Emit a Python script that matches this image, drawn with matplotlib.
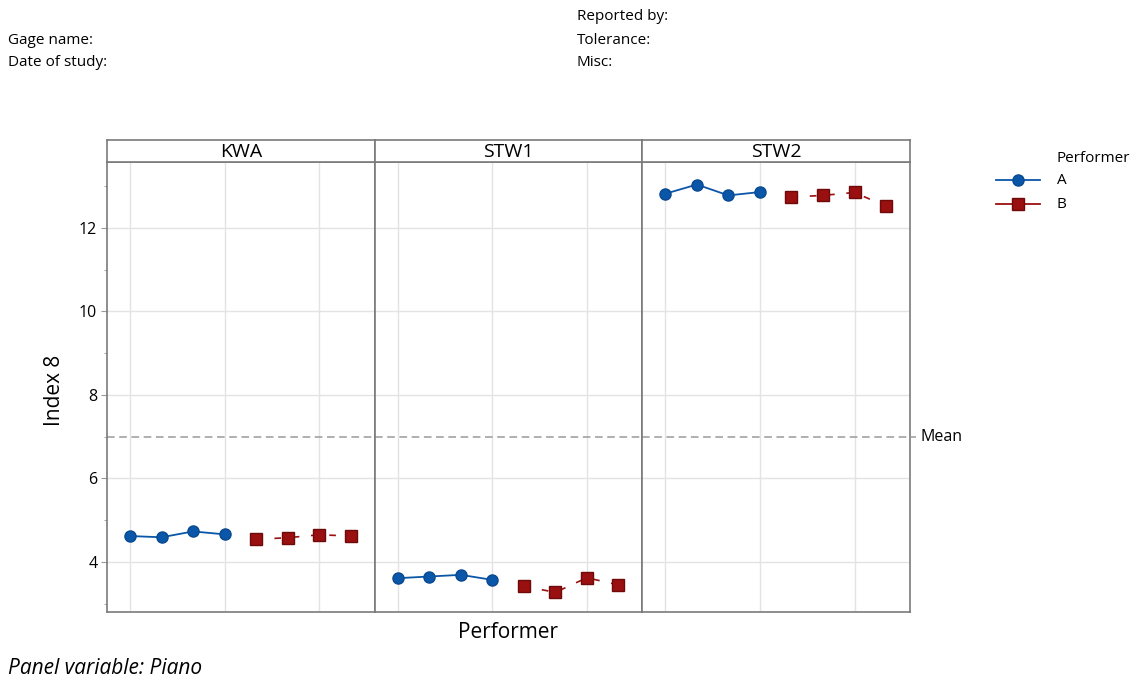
import matplotlib
matplotlib.use("Agg")
import matplotlib.pyplot as plt
from matplotlib.ticker import MultipleLocator
from matplotlib.lines import Line2D
import numpy as np

plt.rcParams['font.family'] = ['Open Sans', 'DejaVu Sans']

panels = ["KWA", "STW1", "STW2"]
performers = ["A", "B"]
trials_A = [1, 2, 3, 4]
trials_B = [5, 6, 7, 8]
vals_A = {
    "KWA": [4.62, 4.59, 4.73, 4.66],
    "STW1": [3.61, 3.65, 3.69, 3.57],
    "STW2": [12.82, 13.04, 12.78, 12.86],
}
vals_B = {
    "KWA": [4.54, 4.58, 4.65, 4.62],
    "STW1": [3.42, 3.27, 3.62, 3.45],
    "STW2": [12.74, 12.78, 12.85, 12.52],
}
yticks = [4, 6, 8, 10, 12]

blue = "#0A56A8"
red = "#9A1010"
grey_spine = "#7a7a7a"
grid_c = "#e3e3e3"

all_vals = np.concatenate([np.array(vals_A[p] + vals_B[p]) for p in panels])
mean_val = all_vals.mean()

W, H = 1130, 678
fig = plt.figure(figsize=(W / 100, H / 100), dpi=100)

left_px, right_px = 107, 910
top_px, bot_px = 162, 612
strip_top = 140
pw = (right_px - left_px) / 3

axes = []
for i, p in enumerate(panels):
    x0 = (left_px + i * pw) / W
    ax = fig.add_axes([x0, 1 - bot_px / H, pw / W, (bot_px - top_px) / H],
                      sharey=axes[0] if axes else None)
    axes.append(ax)
    ax.set_xlim(0.27, 8.76)
    ax.set_ylim(2.8, 13.58)
    for x in [1, 4, 7]:
        ax.axvline(x, color=grid_c, lw=1.0, zorder=0)
    for y in yticks:
        ax.axhline(y, color=grid_c, lw=1.0, zorder=0)
    ax.plot(trials_A, vals_A[p], color=blue, lw=1.3, marker='o', ms=8,
            mfc=blue, mec="#0a4a90", zorder=3)
    ax.plot(trials_B, vals_B[p], color=red, lw=1.2, ls=(0, (4, 7)),
            marker='s', ms=8, mfc=red, mec="#6e0a0a", zorder=3)
    ax.axhline(mean_val, color="#9a9a9a", lw=1.1, ls=(0, (5, 3)), zorder=1)
    ax.set_xticks([])
    for s in ax.spines.values():
        s.set_color(grey_spine)
        s.set_linewidth(1.2)
    if i == 0:
        ax.set_yticks(yticks)
        ax.yaxis.set_minor_locator(MultipleLocator(1))
        ax.tick_params(axis='y', which='major', length=4, color="#999999",
                       labelsize=11.5, pad=3)
        ax.tick_params(axis='y', which='minor', length=2, color="#999999")
    else:
        ax.tick_params(axis='y', which='both', left=False, labelleft=False)
    # strip
    sax = fig.add_axes([x0, 1 - top_px / H, pw / W, (top_px - strip_top) / H])
    sax.set_xticks([]); sax.set_yticks([])
    for s in sax.spines.values():
        s.set_color(grey_spine)
        s.set_linewidth(1.2)
    sax.text(0.5, 0.45, p, ha='center', va='center', fontsize=14,
             transform=sax.transAxes)

# mean line extends a bit beyond the right edge
mean_y_px = axes[2].transData.transform((0, mean_val))[1]
fig.add_artist(Line2D([right_px / W, 916 / W], [mean_y_px / H] * 2,
                      color="#9a9a9a", lw=1.1, ls=(0, (5, 3))))
fig.text(920 / W, mean_y_px / H, "Mean", ha='left', va='center', fontsize=11.5)

fig.text(55 / W, 1 - 390 / H, "Index 8", rotation=90, ha='center',
         va='center', fontsize=15)
fig.text(508 / W, 1 - 632 / H, "Performer", ha='center', va='center',
         fontsize=15)
fig.text(8 / W, 1 - 668 / H, "Panel variable: Piano", ha='left',
         va='center', fontsize=15, style='italic')

hdr = 11
fig.text(8 / W, 1 - 40 / H, "Gage name:", fontsize=hdr, va='center')
fig.text(8 / W, 1 - 63 / H, "Date of study:", fontsize=hdr, va='center')
fig.text(577 / W, 1 - 17 / H, "Reported by:", fontsize=hdr, va='center')
fig.text(577 / W, 1 - 40 / H, "Tolerance:", fontsize=hdr, va='center')
fig.text(577 / W, 1 - 63 / H, "Misc:", fontsize=hdr, va='center')

# legend (drawn manually to match layout)
fig.text(1057 / W, 1 - 158 / H, "Performer", fontsize=11, va='center')
leg_items = [("A", blue, 'o', "#0a4a90", 180), ("B", red, 's', "#6e0a0a", 204)]
for lab, c, mk, mec, ypx in leg_items:
    yy = 1 - ypx / H
    fig.add_artist(Line2D([996 / W, 1040 / W], [yy, yy], color=c, lw=1.3))
    fig.add_artist(Line2D([1018 / W], [yy], color=c, marker=mk, ms=8,
                          mfc=c, mec=mec, lw=0))
    fig.text(1057 / W, yy, lab, fontsize=11, va='center')

fig.savefig("out.png", dpi=100, facecolor='white')
